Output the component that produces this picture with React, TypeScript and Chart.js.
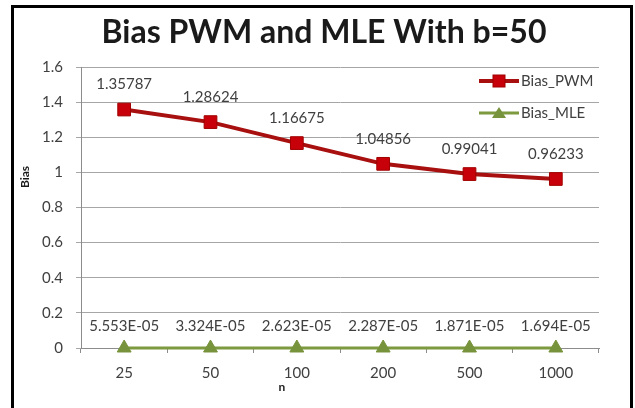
import React, { useEffect, useRef } from "react";
import { Chart, registerables } from "chart.js";

Chart.register(...registerables);

const chartTitle = "Bias PWM and MLE With b=50";
const xTitle = "n";
const yTitle = "Bias";
const categories = ["25", "50", "100", "200", "500", "1000"];
const biasPWM = [1.35787, 1.28624, 1.16675, 1.04856, 0.99041, 0.96233];
const biasMLE = [5.553e-5, 3.324e-5, 2.623e-5, 2.287e-5, 1.871e-5, 1.694e-5];
const seriesNames = ["Bias_PWM", "Bias_MLE"];

const FONT = "Lato, 'Open Sans', sans-serif";

function fmtLabel(v: number, idx: number): string {
  if (idx === 0) return String(v);
  const [m, e] = v.toExponential(3).split("e");
  const n = parseInt(e, 10);
  const sign = n < 0 ? "-" : "+";
  const abs = Math.abs(n);
  return `${m}E${sign}${abs < 10 ? "0" + abs : abs}`;
}

const decorPlugin = {
  id: "decor",
  afterDatasetsDraw(chart: any) {
    const ctx = chart.ctx;
    ctx.save();
    // data labels
    chart.data.datasets.forEach((ds: any, di: number) => {
      const meta = chart.getDatasetMeta(di);
      ctx.font = `15px ${FONT}`;
      ctx.fillStyle = "#404040";
      ctx.textAlign = "center";
      ctx.textBaseline = "middle";
      meta.data.forEach((pt: any, i: number) => {
        const off = di === 0 ? 25 : 22;
        ctx.fillText(fmtLabel(ds.data[i], di), pt.x, pt.y - off);
      });
    });
    // legend
    const legendY = [81, 113];
    chart.data.datasets.forEach((ds: any, di: number) => {
      const y = legendY[di];
      ctx.strokeStyle = ds.borderColor;
      ctx.lineWidth = ds.borderWidth;
      ctx.beginPath();
      ctx.moveTo(479, y);
      ctx.lineTo(519, y);
      ctx.stroke();
      ctx.fillStyle = ds.pointBackgroundColor;
      ctx.strokeStyle = ds.pointBorderColor;
      ctx.lineWidth = 1;
      if (di === 0) {
        ctx.fillRect(493, y - 6, 12, 12);
        ctx.strokeRect(493, y - 6, 12, 12);
      } else {
        ctx.beginPath();
        ctx.moveTo(499, y - 6);
        ctx.lineTo(506, y + 5);
        ctx.lineTo(492, y + 5);
        ctx.closePath();
        ctx.fill();
      }
      ctx.font = `15px ${FONT}`;
      ctx.fillStyle = "#404040";
      ctx.textAlign = "left";
      ctx.textBaseline = "middle";
      ctx.fillText(ds.label, 521, y);
    });
    // axis titles
    ctx.fillStyle = "#1a1a1a";
    ctx.font = `bold 12px ${FONT}`;
    ctx.textAlign = "center";
    ctx.textBaseline = "middle";
    ctx.fillText(xTitle, 282, 387);
    ctx.save();
    ctx.translate(25, 177);
    ctx.rotate(-Math.PI / 2);
    ctx.fillText(yTitle, 0, 0);
    ctx.restore();
    // chart title
    ctx.font = `bold 32px ${FONT}`;
    ctx.fillStyle = "#1a1a1a";
    ctx.fillText(chartTitle, 324, 33);
    ctx.restore();
  },
};

export default function App() {
  const ref = useRef<HTMLCanvasElement | null>(null);
  useEffect(() => {
    if (!ref.current) return;
    const chart = new Chart(ref.current, {
      type: "line",
      data: {
        labels: categories,
        datasets: [
          {
            label: seriesNames[0],
            data: biasPWM,
            borderColor: "#A80F0F",
            borderWidth: 4,
            pointStyle: "rect",
            pointRadius: 9,
            pointBackgroundColor: "#C8000A",
            pointBorderColor: "#A00000",
            pointBorderWidth: 1,
            clip: false,
          },
          {
            label: seriesNames[1],
            data: biasMLE,
            borderColor: "#7D9A3E",
            borderWidth: 3,
            pointStyle: "triangle",
            pointRadius: 8,
            pointBackgroundColor: "#77933C",
            pointBorderColor: "#77933C",
            pointBorderWidth: 1,
            clip: false,
          },
        ],
      } as any,
      options: {
        animation: false,
        responsive: false,
        maintainAspectRatio: false,
        layout: { padding: { top: 67, right: 36, bottom: 0, left: 0 } },
        plugins: {
          legend: { display: false },
          title: { display: false },
          tooltip: { enabled: false },
        },
        scales: {
          x: {
            type: "category",
            offset: true,
            afterFit: (s: any) => {
              s.height = 60;
            },
            grid: {
              offset: true,
              drawOnChartArea: false,
              drawTicks: true,
              tickLength: 5,
              color: "#8c8c8c",
            },
            border: { color: "#8c8c8c", width: 1 },
            ticks: {
              padding: 11,
              color: "#404040",
              font: { family: FONT, size: 15 },
              maxRotation: 0,
            },
          },
          y: {
            min: 0,
            max: 1.6,
            afterFit: (s: any) => {
              s.width = 81;
            },
            grid: {
              color: "#a6a6a6",
              tickLength: 5,
              drawTicks: true,
            },
            border: { color: "#8c8c8c", width: 1 },
            ticks: {
              stepSize: 0.2,
              padding: 13,
              color: "#404040",
              font: { family: FONT, size: 15 },
              callback: (v: any) => String(Number(Number(v).toFixed(1))),
            },
          },
        },
      } as any,
      plugins: [decorPlugin],
    });
    return () => chart.destroy();
  }, []);

  return (
    <div style={{ position: "fixed", left: 0, top: 0, width: 635, height: 408, background: "#fff" }}>
      <div
        style={{
          position: "absolute",
          left: 11,
          top: 5,
          width: 622,
          height: 410,
          border: "3px solid #000",
          boxSizing: "border-box",
        }}
      />
      <canvas
        ref={ref}
        width={635}
        height={408}
        style={{ position: "absolute", left: 0, top: 0, width: 635, height: 408 }}
      />
    </div>
  );
}
